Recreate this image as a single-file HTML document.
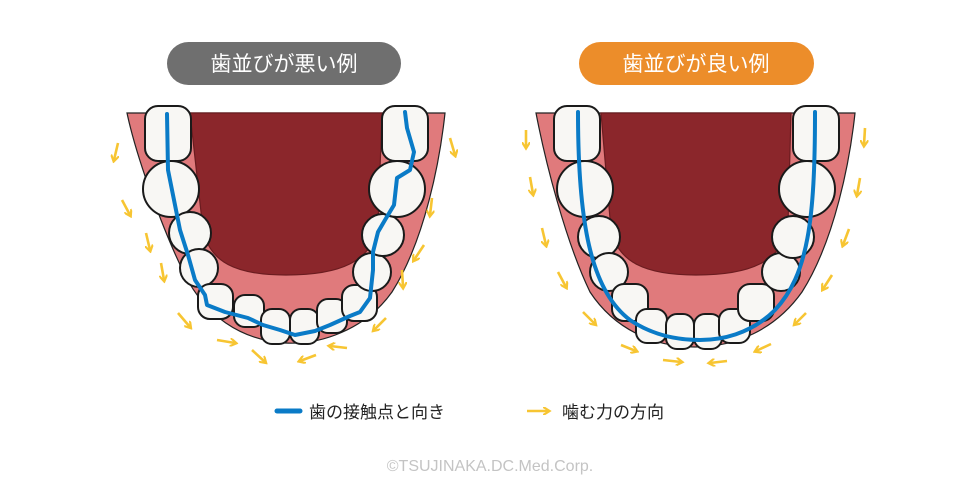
<!DOCTYPE html>
<html><head><meta charset="utf-8"><style>
body{margin:0;background:#fff;}
svg{display:block;font-family:"Liberation Sans","Noto Sans CJK JP",sans-serif;}
</style></head><body>
<svg width="980" height="487" viewBox="0 0 980 487">
<defs>
<marker id="ah" viewBox="0 0 10 10" refX="6" refY="5" markerWidth="3.2" markerHeight="3.2" orient="auto"><path d="M0,0 L8,5 L0,10" fill="none" stroke="#f7c532" stroke-width="2.6"/></marker>
</defs>
<rect x="167" y="42" width="234" height="43" rx="21.5" fill="#6f6f6f"/>
<text x="284" y="71" font-size="21" fill="#fff" text-anchor="middle">歯並びが悪い例</text>
<rect x="579" y="42" width="235" height="43" rx="21.5" fill="#ec8d2a"/>
<text x="696" y="71" font-size="21" fill="#fff" text-anchor="middle">歯並びが良い例</text>

<!-- LEFT ARCH -->
<g stroke="#222" stroke-width="1.2">
<path d="M127,113 L445,113 C440,160 425,240 392,292 C365,330 320,345 285,343 C240,340 205,315 185,275 C165,235 137,160 127,113Z" fill="#e07a7c"/>
<path d="M190,113 L382,113 L378,225 C372,262 340,275 286,275 C235,275 210,262 203,230Z" fill="#8b262b" stroke="#6b1c20"/>
</g>
<g fill="#f8f7f4" stroke="#1a1a1a" stroke-width="2">
<rect x="145" y="106" width="46" height="55" rx="13"/>
<circle cx="171" cy="189" r="28"/>
<circle cx="190" cy="233" r="21"/>
<circle cx="199" cy="268" r="19"/>
<rect x="198" y="284" width="35" height="35" rx="12"/>
<rect x="234" y="295" width="30" height="32" rx="11"/>
<rect x="261" y="309" width="29" height="35" rx="11"/>
<rect x="290" y="309" width="29" height="35" rx="11"/>
<rect x="317" y="299" width="30" height="34" rx="11"/>
<rect x="342" y="285" width="35" height="36" rx="12"/>
<circle cx="372" cy="272" r="19"/>
<circle cx="383" cy="235" r="21"/>
<circle cx="397" cy="189" r="28"/>
<rect x="382" y="106" width="46" height="55" rx="13"/>
</g>
<path d="M167,114 L168,170 L175,205 L180,230 L188,255 L195,280 L205,295 L207,305 L225,312 L248,318 L263,325 L280,330 L295,335 L315,331 L330,325 L350,316 L360,312 L370,298 L373,270 L373,252 L378,232 L385,220 L394,205 L397,178 L410,170 L414,152 L407,128 L405,112" fill="none" stroke="#0a7bc7" stroke-width="4" stroke-linejoin="round" stroke-linecap="round"/>
<g stroke="#f7c532" stroke-width="2.6" marker-end="url(#ah)" fill="none">
<line x1="118" y1="143" x2="114" y2="160"/>
<line x1="122" y1="200" x2="130" y2="215"/>
<line x1="146" y1="233" x2="150" y2="250"/>
<line x1="161" y1="263" x2="164" y2="280"/>
<line x1="178" y1="313" x2="190" y2="327"/>
<line x1="217" y1="340" x2="235" y2="343"/>
<line x1="252" y1="350" x2="265" y2="362"/>
<line x1="316" y1="355" x2="300" y2="361"/>
<line x1="347" y1="348" x2="330" y2="346"/>
<line x1="386" y1="318" x2="374" y2="330"/>
<line x1="402" y1="270" x2="403" y2="287"/>
<line x1="424" y1="245" x2="414" y2="260"/>
<line x1="432" y1="198" x2="430" y2="215"/>
<line x1="450" y1="138" x2="455" y2="155"/>
</g>

<!-- RIGHT ARCH -->
<g stroke="#222" stroke-width="1.2">
<path d="M536,113 L855,113 C850,160 835,240 802,292 C775,330 735,347 695,347 C655,347 615,330 590,292 C565,240 545,160 536,113Z" fill="#e07a7c"/>
<path d="M601,113 L791,113 L788,225 C782,262 750,275 696,275 C645,275 618,262 611,230Z" fill="#8b262b" stroke="#6b1c20"/>
</g>
<g fill="#f8f7f4" stroke="#1a1a1a" stroke-width="2">
<rect x="554" y="106" width="46" height="55" rx="13"/>
<circle cx="585" cy="189" r="28"/>
<circle cx="599" cy="237" r="21"/>
<circle cx="609" cy="272" r="19"/>
<rect x="612" y="284" width="36" height="37" rx="12"/>
<rect x="636" y="309" width="31" height="34" rx="11"/>
<rect x="666" y="314" width="28" height="35" rx="11"/>
<rect x="694" y="314" width="28" height="35" rx="11"/>
<rect x="719" y="309" width="31" height="34" rx="11"/>
<rect x="738" y="284" width="36" height="37" rx="12"/>
<circle cx="781" cy="272" r="19"/>
<circle cx="793" cy="237" r="21"/>
<circle cx="807" cy="189" r="28"/>
<rect x="793" y="106" width="46" height="55" rx="13"/>
</g>
<path d="M578,112 C578,220 590,290 630,320 C660,340 690,340 700,340 C720,340 750,335 775,310 C808,275 815,220 815,112" fill="none" stroke="#0a7bc7" stroke-width="4" stroke-linecap="round"/>
<g stroke="#f7c532" stroke-width="2.6" marker-end="url(#ah)" fill="none">
<line x1="526" y1="130" x2="526" y2="147"/>
<line x1="530" y1="177" x2="533" y2="194"/>
<line x1="542" y1="228" x2="546" y2="245"/>
<line x1="558" y1="272" x2="566" y2="287"/>
<line x1="583" y1="312" x2="595" y2="324"/>
<line x1="621" y1="345" x2="636" y2="351"/>
<line x1="663" y1="360" x2="681" y2="362"/>
<line x1="727" y1="361" x2="710" y2="363"/>
<line x1="771" y1="344" x2="756" y2="351"/>
<line x1="806" y1="313" x2="795" y2="324"/>
<line x1="832" y1="275" x2="823" y2="289"/>
<line x1="849" y1="229" x2="843" y2="245"/>
<line x1="860" y1="178" x2="857" y2="195"/>
<line x1="865" y1="128" x2="864" y2="145"/>
</g>

<line x1="277" y1="411" x2="300" y2="411" stroke="#0a7bc7" stroke-width="5" stroke-linecap="round"/>
<text x="309" y="418" font-size="17" fill="#222">歯の接触点と向き</text>
<line x1="527" y1="411" x2="548" y2="411" stroke="#f7c532" stroke-width="2.6" marker-end="url(#ah)"/>
<text x="562" y="418" font-size="17" fill="#222">噛む力の方向</text>
<text x="490" y="471" font-size="16" fill="#c4c4c4" text-anchor="middle">©TSUJINAKA.DC.Med.Corp.</text>
</svg>
</body></html>
